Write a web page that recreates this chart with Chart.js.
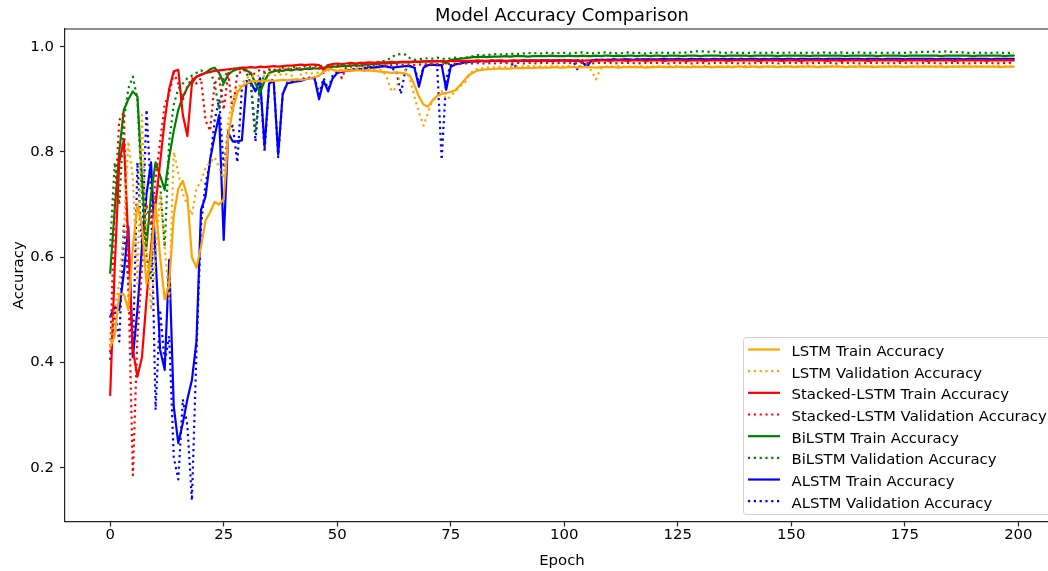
<!DOCTYPE html>
<html>
<head>
<meta charset="utf-8">
<script src="https://cdn.jsdelivr.net/npm/chart.js@4.4.1/dist/chart.umd.min.js"></script>
<style>
  html, body { margin: 0; padding: 0; background: #ffffff; overflow: hidden; width: 1048px; height: 571px; }
  #wrap { position: absolute; left: 0; top: 0; width: 1070px; height: 571px; }
</style>
</head>
<body>
<div id="wrap"><canvas id="chart" width="1070" height="571"></canvas></div>
<script>
// ---- data -------------------------------------------------------------
const epochs = Array.from({ length: 200 }, (_, i) => i);
const xTickValues = [0, 25, 50, 75, 100, 125, 150, 175, 200];
const yTickValues = [0.2, 0.4, 0.6, 0.8, 1.0];

const lstmTrain = [
  0.430,0.450,0.530,0.530,0.500,0.620,0.700,0.660,0.550,0.600,
  0.700,0.600,0.520,0.550,0.680,0.730,0.745,0.715,0.600,0.580,
  0.620,0.670,0.685,0.705,0.700,0.710,0.830,0.880,0.912,0.925,
  0.930,0.934,0.935,0.934,0.935,0.936,0.935,0.936,0.937,0.936,
  0.937,0.938,0.937,0.938,0.940,0.942,0.945,0.952,0.958,0.956,
  0.954,0.954,0.955,0.954,0.955,0.955,0.954,0.955,0.954,0.953,
  0.952,0.951,0.950,0.951,0.950,0.949,0.945,0.927,0.905,0.890,
  0.886,0.898,0.906,0.910,0.912,0.914,0.917,0.926,0.936,0.946,
  0.951,0.955,0.956,0.957,0.957,0.958,0.958,0.958,0.958,0.959,
  0.959,0.959,0.960,0.959,0.960,0.960,0.960,0.960,0.961,0.960,
  0.960,0.961,0.961,0.960,0.961,0.961,0.961,0.960,0.961,0.961,
  0.961,0.961,0.960,0.961,0.961,0.961,0.961,0.961,0.960,0.961,
  0.961,0.962,0.961,0.961,0.961,0.962,0.961,0.961,0.961,0.962,
  0.961,0.962,0.961,0.961,0.962,0.961,0.962,0.961,0.962,0.962,
  0.961,0.962,0.962,0.961,0.962,0.962,0.962,0.961,0.962,0.962,
  0.962,0.961,0.962,0.962,0.962,0.962,0.961,0.962,0.962,0.962,
  0.962,0.962,0.961,0.962,0.962,0.962,0.962,0.962,0.961,0.962,
  0.962,0.962,0.962,0.962,0.962,0.961,0.962,0.962,0.962,0.962,
  0.962,0.962,0.962,0.962,0.961,0.962,0.962,0.962,0.962,0.962,
  0.962,0.962,0.962,0.962,0.962,0.962,0.961,0.962,0.962,0.962
];
const lstmVal = [
  0.430,0.500,0.550,0.650,0.820,0.750,0.550,0.870,0.620,0.500,
  0.600,0.720,0.620,0.520,0.800,0.760,0.720,0.700,0.680,0.730,
  0.745,0.770,0.780,0.790,0.770,0.750,0.860,0.900,0.920,0.930,
  0.940,0.945,0.942,0.946,0.944,0.947,0.945,0.948,0.946,0.948,
  0.945,0.932,0.947,0.950,0.948,0.951,0.950,0.953,0.955,0.954,
  0.955,0.956,0.955,0.957,0.956,0.958,0.957,0.958,0.956,0.957,
  0.955,0.940,0.915,0.922,0.950,0.955,0.940,0.905,0.875,0.850,
  0.875,0.898,0.908,0.915,0.900,0.905,0.915,0.925,0.930,0.945,
  0.955,0.958,0.959,0.960,0.961,0.960,0.962,0.961,0.962,0.962,
  0.962,0.962,0.963,0.962,0.963,0.962,0.962,0.963,0.962,0.963,
  0.962,0.963,0.962,0.963,0.963,0.962,0.955,0.938,0.958,0.962,
  0.963,0.962,0.963,0.962,0.962,0.963,0.962,0.963,0.962,0.962,
  0.963,0.962,0.962,0.963,0.962,0.963,0.962,0.962,0.963,0.962,
  0.962,0.963,0.962,0.962,0.963,0.962,0.963,0.962,0.962,0.963,
  0.963,0.962,0.962,0.963,0.962,0.962,0.963,0.962,0.963,0.962,
  0.962,0.963,0.962,0.962,0.963,0.962,0.962,0.963,0.962,0.963,
  0.963,0.962,0.963,0.962,0.962,0.963,0.962,0.962,0.963,0.962,
  0.962,0.963,0.962,0.963,0.962,0.962,0.963,0.962,0.962,0.963,
  0.963,0.962,0.962,0.963,0.962,0.963,0.962,0.962,0.963,0.962,
  0.962,0.963,0.962,0.962,0.963,0.962,0.963,0.962,0.962,0.963
];
const stackedTrain = [
  0.338,0.580,0.780,0.823,0.630,0.424,0.373,0.410,0.520,0.620,
  0.700,0.780,0.860,0.920,0.953,0.956,0.870,0.830,0.930,0.943,
  0.947,0.950,0.952,0.954,0.955,0.956,0.957,0.958,0.959,0.960,
  0.960,0.961,0.960,0.962,0.961,0.962,0.963,0.962,0.963,0.964,
  0.964,0.965,0.966,0.965,0.966,0.966,0.965,0.955,0.965,0.967,
  0.968,0.967,0.968,0.969,0.968,0.969,0.969,0.970,0.969,0.970,
  0.970,0.970,0.971,0.970,0.971,0.971,0.971,0.972,0.971,0.972,
  0.972,0.972,0.972,0.973,0.972,0.973,0.973,0.973,0.973,0.973,
  0.973,0.974,0.973,0.973,0.974,0.973,0.974,0.973,0.973,0.974,
  0.973,0.974,0.974,0.973,0.974,0.973,0.974,0.974,0.973,0.974,
  0.974,0.973,0.974,0.974,0.973,0.974,0.974,0.973,0.974,0.974,
  0.973,0.974,0.974,0.974,0.973,0.974,0.974,0.974,0.973,0.974,
  0.974,0.974,0.973,0.974,0.974,0.974,0.974,0.973,0.974,0.974,
  0.974,0.973,0.974,0.974,0.974,0.974,0.973,0.974,0.974,0.974,
  0.974,0.974,0.974,0.973,0.974,0.974,0.974,0.974,0.973,0.974,
  0.974,0.974,0.973,0.974,0.974,0.974,0.974,0.974,0.973,0.974,
  0.974,0.973,0.974,0.974,0.974,0.974,0.974,0.973,0.974,0.974,
  0.974,0.974,0.974,0.974,0.973,0.974,0.974,0.974,0.974,0.974,
  0.973,0.974,0.974,0.974,0.974,0.974,0.973,0.974,0.974,0.974,
  0.974,0.974,0.974,0.973,0.974,0.974,0.974,0.974,0.974,0.974
];
const stackedVal = [
  0.420,0.700,0.860,0.875,0.550,0.186,0.450,0.580,0.700,0.660,
  0.750,0.820,0.890,0.910,0.950,0.930,0.900,0.925,0.940,0.930,
  0.940,0.860,0.840,0.930,0.940,0.880,0.950,0.875,0.950,0.952,
  0.955,0.945,0.950,0.956,0.952,0.957,0.954,0.958,0.955,0.958,
  0.957,0.959,0.956,0.960,0.958,0.960,0.959,0.950,0.961,0.960,
  0.962,0.940,0.961,0.962,0.963,0.962,0.964,0.963,0.964,0.964,
  0.965,0.964,0.965,0.966,0.965,0.966,0.966,0.965,0.966,0.967,
  0.966,0.967,0.967,0.966,0.967,0.967,0.968,0.967,0.968,0.968,
  0.968,0.969,0.968,0.968,0.969,0.968,0.969,0.969,0.968,0.969,
  0.969,0.968,0.969,0.969,0.968,0.969,0.969,0.969,0.968,0.969,
  0.969,0.969,0.968,0.969,0.969,0.969,0.968,0.969,0.969,0.969,
  0.969,0.968,0.969,0.969,0.969,0.969,0.968,0.969,0.969,0.969,
  0.969,0.969,0.969,0.968,0.969,0.969,0.969,0.969,0.968,0.969,
  0.969,0.969,0.968,0.969,0.969,0.969,0.969,0.969,0.968,0.969,
  0.969,0.968,0.969,0.969,0.969,0.969,0.969,0.968,0.969,0.969,
  0.969,0.969,0.969,0.969,0.968,0.969,0.969,0.969,0.969,0.969,
  0.968,0.969,0.969,0.969,0.969,0.968,0.969,0.969,0.969,0.969,
  0.969,0.969,0.968,0.969,0.969,0.969,0.969,0.969,0.968,0.969,
  0.969,0.969,0.969,0.968,0.969,0.969,0.969,0.969,0.969,0.968,
  0.969,0.969,0.969,0.969,0.969,0.968,0.969,0.969,0.969,0.969
];
const bilstmTrain = [
  0.570,0.690,0.800,0.880,0.900,0.915,0.905,0.750,0.620,0.720,
  0.780,0.755,0.728,0.790,0.840,0.880,0.905,0.922,0.935,0.943,
  0.946,0.950,0.957,0.960,0.950,0.930,0.947,0.954,0.957,0.959,
  0.955,0.950,0.930,0.912,0.935,0.950,0.953,0.955,0.954,0.956,
  0.955,0.957,0.956,0.958,0.957,0.959,0.958,0.960,0.961,0.962,
  0.962,0.963,0.963,0.964,0.965,0.964,0.966,0.966,0.967,0.967,
  0.968,0.968,0.969,0.969,0.970,0.970,0.970,0.971,0.971,0.972,
  0.972,0.972,0.973,0.972,0.968,0.975,0.976,0.977,0.978,0.979,
  0.980,0.980,0.981,0.980,0.981,0.981,0.981,0.982,0.981,0.982,
  0.982,0.982,0.981,0.982,0.982,0.982,0.982,0.983,0.982,0.982,
  0.982,0.983,0.982,0.982,0.983,0.982,0.982,0.983,0.982,0.983,
  0.983,0.982,0.983,0.982,0.983,0.983,0.982,0.983,0.983,0.982,
  0.983,0.983,0.982,0.983,0.983,0.983,0.982,0.983,0.983,0.983,
  0.982,0.983,0.983,0.983,0.983,0.982,0.983,0.983,0.983,0.983,
  0.983,0.982,0.983,0.983,0.983,0.983,0.983,0.982,0.983,0.983,
  0.983,0.983,0.983,0.983,0.982,0.983,0.983,0.983,0.983,0.983,
  0.983,0.983,0.982,0.983,0.983,0.983,0.983,0.983,0.983,0.982,
  0.983,0.983,0.983,0.983,0.983,0.982,0.983,0.983,0.983,0.983,
  0.983,0.983,0.983,0.982,0.983,0.983,0.983,0.983,0.983,0.983,
  0.982,0.983,0.983,0.983,0.983,0.983,0.983,0.982,0.983,0.983
];
const bilstmVal = [
  0.620,0.780,0.700,0.860,0.920,0.943,0.900,0.720,0.600,0.560,
  0.720,0.740,0.620,0.820,0.890,0.920,0.930,0.940,0.945,0.950,
  0.955,0.950,0.955,0.930,0.880,0.940,0.955,0.960,0.955,0.960,
  0.950,0.930,0.840,0.920,0.950,0.955,0.958,0.950,0.960,0.958,
  0.960,0.962,0.958,0.963,0.961,0.964,0.962,0.965,0.963,0.966,
  0.965,0.967,0.966,0.968,0.967,0.969,0.968,0.970,0.969,0.971,
  0.972,0.974,0.980,0.985,0.986,0.985,0.978,0.975,0.976,0.977,
  0.978,0.977,0.979,0.978,0.976,0.978,0.979,0.978,0.979,0.980,
  0.982,0.984,0.983,0.985,0.984,0.986,0.985,0.986,0.985,0.987,
  0.986,0.987,0.988,0.987,0.988,0.987,0.988,0.988,0.987,0.988,
  0.988,0.987,0.988,0.988,0.989,0.988,0.987,0.988,0.988,0.989,
  0.988,0.988,0.987,0.988,0.989,0.988,0.988,0.988,0.987,0.988,
  0.988,0.989,0.988,0.988,0.988,0.989,0.988,0.989,0.990,0.991,
  0.991,0.991,0.990,0.991,0.989,0.988,0.988,0.989,0.988,0.988,
  0.988,0.988,0.989,0.988,0.988,0.988,0.989,0.988,0.988,0.988,
  0.989,0.988,0.988,0.988,0.989,0.988,0.988,0.989,0.988,0.988,
  0.988,0.989,0.988,0.988,0.988,0.989,0.988,0.988,0.988,0.989,
  0.988,0.988,0.989,0.988,0.988,0.988,0.989,0.988,0.990,0.990,
  0.990,0.991,0.990,0.990,0.991,0.990,0.990,0.989,0.989,0.988,
  0.988,0.988,0.989,0.988,0.988,0.989,0.988,0.988,0.988,0.988
];
const alstmTrain = [
  0.487,0.506,0.500,0.570,0.658,0.410,0.500,0.620,0.720,0.780,
  0.600,0.424,0.386,0.595,0.316,0.247,0.285,0.330,0.367,0.440,
  0.690,0.715,0.785,0.830,0.870,0.633,0.836,0.820,0.820,0.822,
  0.930,0.932,0.915,0.940,0.810,0.930,0.935,0.795,0.910,0.930,
  0.932,0.934,0.935,0.938,0.940,0.940,0.900,0.935,0.915,0.940,
  0.950,0.952,0.954,0.955,0.956,0.957,0.958,0.960,0.960,0.961,
  0.963,0.962,0.960,0.961,0.962,0.963,0.963,0.960,0.924,0.960,
  0.965,0.966,0.965,0.965,0.918,0.962,0.966,0.968,0.970,0.971,
  0.972,0.972,0.973,0.972,0.973,0.973,0.973,0.972,0.973,0.973,
  0.973,0.974,0.973,0.974,0.973,0.974,0.974,0.973,0.974,0.974,
  0.974,0.974,0.973,0.974,0.970,0.962,0.974,0.975,0.975,0.975,
  0.975,0.976,0.975,0.976,0.976,0.975,0.976,0.976,0.976,0.976,
  0.976,0.976,0.977,0.976,0.976,0.977,0.976,0.976,0.977,0.976,
  0.977,0.976,0.976,0.977,0.976,0.977,0.976,0.977,0.976,0.977,
  0.976,0.977,0.977,0.976,0.977,0.976,0.977,0.977,0.976,0.977,
  0.977,0.976,0.977,0.977,0.976,0.977,0.977,0.976,0.977,0.977,
  0.977,0.977,0.976,0.977,0.977,0.977,0.976,0.977,0.977,0.977,
  0.976,0.977,0.977,0.977,0.977,0.976,0.977,0.977,0.977,0.977,
  0.977,0.977,0.976,0.977,0.977,0.977,0.977,0.977,0.976,0.977,
  0.977,0.977,0.977,0.977,0.976,0.977,0.977,0.977,0.977,0.977
];
const alstmVal = [
  0.405,0.500,0.440,0.660,0.550,0.410,0.780,0.620,0.880,0.720,
  0.310,0.500,0.400,0.450,0.220,0.178,0.330,0.280,0.138,0.420,
  0.660,0.740,0.780,0.860,0.900,0.770,0.840,0.850,0.780,0.920,
  0.935,0.928,0.820,0.940,0.800,0.930,0.940,0.790,0.910,0.932,
  0.935,0.936,0.938,0.940,0.941,0.942,0.910,0.940,0.920,0.945,
  0.952,0.954,0.955,0.957,0.958,0.958,0.960,0.961,0.961,0.962,
  0.963,0.962,0.958,0.955,0.910,0.955,0.963,0.962,0.930,0.962,
  0.965,0.966,0.965,0.785,0.940,0.965,0.967,0.968,0.970,0.971,
  0.972,0.972,0.973,0.972,0.973,0.973,0.973,0.972,0.973,0.960,
  0.973,0.974,0.973,0.974,0.973,0.974,0.974,0.973,0.974,0.974,
  0.974,0.974,0.972,0.955,0.974,0.960,0.974,0.975,0.975,0.975,
  0.975,0.976,0.975,0.975,0.976,0.975,0.976,0.975,0.976,0.976,
  0.975,0.976,0.976,0.975,0.976,0.976,0.975,0.976,0.976,0.976,
  0.976,0.975,0.976,0.976,0.976,0.975,0.976,0.976,0.976,0.975,
  0.976,0.976,0.975,0.976,0.976,0.976,0.976,0.975,0.976,0.976,
  0.976,0.976,0.976,0.975,0.976,0.976,0.976,0.976,0.975,0.976,
  0.976,0.975,0.976,0.976,0.976,0.976,0.976,0.975,0.976,0.976,
  0.976,0.976,0.975,0.976,0.976,0.976,0.976,0.976,0.975,0.976,
  0.976,0.976,0.976,0.976,0.975,0.976,0.976,0.976,0.976,0.976,
  0.975,0.976,0.976,0.976,0.976,0.976,0.975,0.976,0.976,0.976
];

// ---- styling ----------------------------------------------------------
const FONT = '"DejaVu Sans", "Liberation Sans", sans-serif';
const FS = 14.9;           // ticks, axis titles, legend
const FS_TITLE = 17.9;     // chart title
const LW = 2.2;            // series line width
const DOTTED = [2.2, 3.6];

function series(label, values, color, dashed) {
  return {
    label,
    data: epochs.map((e, i) => ({ x: e, y: values[i] })),
    borderColor: color,
    backgroundColor: color,
    borderWidth: LW,
    borderDash: dashed ? DOTTED : [],
    borderCapStyle: dashed ? 'butt' : 'round',
    borderJoinStyle: 'round',
    pointRadius: 0,
    pointHoverRadius: 0,
    tension: 0,
    fill: false,
    clip: 0
  };
}

const datasets = [
  series('LSTM Train Accuracy', lstmTrain, '#FFA500', false),
  series('LSTM Validation Accuracy', lstmVal, '#FFA500', true),
  series('Stacked-LSTM Train Accuracy', stackedTrain, '#FF0000', false),
  series('Stacked-LSTM Validation Accuracy', stackedVal, '#FF0000', true),
  series('BiLSTM Train Accuracy', bilstmTrain, '#008000', false),
  series('BiLSTM Validation Accuracy', bilstmVal, '#008000', true),
  series('ALSTM Train Accuracy', alstmTrain, '#0000FF', false),
  series('ALSTM Validation Accuracy', alstmVal, '#0000FF', true)
];

// Title, axis titles, top/right frame and the boxed legend in the lower right.
const decorations = {
  id: 'decorations',
  afterDraw(chart) {
    const { ctx, chartArea: a } = chart;
    ctx.save();

    // remaining two sides of the axes frame
    ctx.strokeStyle = '#222';
    ctx.lineWidth = 1.2;
    ctx.beginPath();
    ctx.moveTo(a.left, a.top);
    ctx.lineTo(a.right, a.top);
    ctx.lineTo(a.right, a.bottom);
    ctx.stroke();

    ctx.fillStyle = '#000';
    ctx.textAlign = 'center';
    ctx.textBaseline = 'alphabetic';
    const cx = (a.left + a.right) / 2;
    ctx.font = FS_TITLE + 'px ' + FONT;
    ctx.fillText('Model Accuracy Comparison', cx, 21);

    ctx.font = FS + 'px ' + FONT;
    ctx.fillText('Epoch', cx, 564.5);

    ctx.save();
    ctx.translate(22.8, (a.top + a.bottom) / 2);
    ctx.rotate(-Math.PI / 2);
    ctx.fillText('Accuracy', 0, 0);
    ctx.restore();

    // legend box
    const bx0 = 743.5, by0 = 337.5, bx1 = a.right - 7, by1 = a.bottom - 7, r = 3;
    ctx.beginPath();
    ctx.moveTo(bx0 + r, by0);
    ctx.lineTo(bx1 - r, by0);
    ctx.arcTo(bx1, by0, bx1, by0 + r, r);
    ctx.lineTo(bx1, by1 - r);
    ctx.arcTo(bx1, by1, bx1 - r, by1, r);
    ctx.lineTo(bx0 + r, by1);
    ctx.arcTo(bx0, by1, bx0, by1 - r, r);
    ctx.lineTo(bx0, by0 + r);
    ctx.arcTo(bx0, by0, bx0 + r, by0, r);
    ctx.closePath();
    ctx.fillStyle = 'rgba(255,255,255,0.8)';
    ctx.fill();
    ctx.strokeStyle = 'rgba(204,204,204,0.9)';
    ctx.lineWidth = 1;
    ctx.stroke();

    ctx.textAlign = 'left';
    ctx.font = FS + 'px ' + FONT;
    chart.data.datasets.forEach((ds, i) => {
      const yy = 349.5 + i * 21.67;
      ctx.beginPath();
      ctx.setLineDash(ds.borderDash);
      ctx.lineCap = 'butt';
      ctx.strokeStyle = ds.borderColor;
      ctx.lineWidth = LW;
      ctx.moveTo(748, yy);
      ctx.lineTo(780, yy);
      ctx.stroke();
      ctx.setLineDash([]);
      ctx.fillStyle = '#000';
      ctx.fillText(ds.label, 791.5, yy + 6.5);
    });
    ctx.restore();
  }
};

const axisCommon = {
  type: 'linear',
  grid: { display: true, drawOnChartArea: false, drawTicks: true, tickLength: 5, tickColor: '#222', tickWidth: 1.2 },
  border: { display: true, color: '#222', width: 1.2 }
};

new Chart(document.getElementById('chart'), {
  type: 'line',
  data: { datasets },
  options: {
    responsive: false,
    animation: false,
    devicePixelRatio: 1,
    events: [],
    layout: { padding: { left: 0, right: 11, top: 29, bottom: 0 } },
    plugins: { legend: { display: false }, tooltip: { enabled: false }, title: { display: false } },
    scales: {
      x: {
        ...axisCommon,
        position: 'bottom',
        min: -9.95,
        max: 208.95,
        afterBuildTicks: s => { s.ticks = xTickValues.map(v => ({ value: v })); },
        afterFit: s => { s.height = 49.5; },
        ticks: { autoSkip: false, maxRotation: 0, padding: 0, color: '#000', font: { family: FONT, size: FS } }
      },
      y: {
        ...axisCommon,
        position: 'left',
        min: 0.098,
        max: 1.0335,
        afterBuildTicks: s => { s.ticks = yTickValues.map(v => ({ value: v })); },
        afterFit: s => { s.width = 65; },
        ticks: { padding: 6, color: '#000', font: { family: FONT, size: FS }, callback: v => v.toFixed(1) }
      }
    }
  },
  plugins: [decorations]
});
</script>
</body>
</html>
